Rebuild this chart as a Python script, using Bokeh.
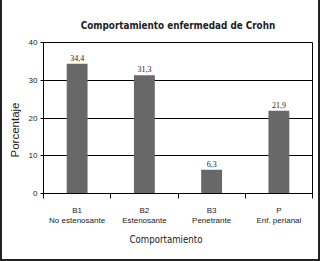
from bokeh.plotting import figure
from bokeh.models import (ColumnDataSource, FixedTicker, LabelSet, Range1d, Title)
from bokeh.embed import file_html
from bokeh.resources import INLINE

categories = ["B1\nNo estenosante", "B2\nEstenosante", "B3\nPenetrante", "P\nEnf. perianal"]
values = [34.4, 31.3, 6.3, 21.9]
value_labels = ["34,4", "31,3", "6,3", "21,9"]
y_ticks = [0, 10, 20, 30, 40]
title_text = "Comportamiento enfermedad de Crohn"
x_title = "Comportamiento"
y_title = "Porcentaje"

SANS = "Liberation Sans"
COND = "DejaVu Sans Condensed"

W, H = 320, 261
FL, FB = 40, 193  # frame left / bottom in canvas pixels
xs = [i + 0.5 for i in range(len(categories))]
src = ColumnDataSource(dict(x=xs, top=values, lab=value_labels))

p = figure(width=W, height=H, output_backend="svg", toolbar_location=None,
           x_range=Range1d(0, len(categories)), y_range=Range1d(0, 40),
           min_border_left=FL, min_border_right=10, min_border_top=42, min_border_bottom=H - FB)
p.styles = {"border-left": "2px solid #222", "border-right": "2px solid #222",
            "border-bottom": "2px solid #222", "box-sizing": "border-box"}

p.vbar(x="x", top="top", width=0.31, source=src, fill_color="#686868", line_color=None)

labels = LabelSet(x="x", y="top", text="lab", source=src, text_align="center",
                  text_baseline="bottom", y_offset=3, text_font_size="8px",
                  text_font=SANS, text_color="#222222")
p.add_layout(labels)

p.title = Title(text=title_text, align="center",
                text_font=COND, text_font_size="9.8px", text_font_style="bold",
                text_color="#222222", standoff=24)

p.outline_line_color = "black"
p.outline_line_width = 1
p.background_fill_color = "white"
p.border_fill_color = "white"

p.xgrid.visible = False
p.ygrid.grid_line_color = "black"
p.ygrid.grid_line_alpha = 1
p.ygrid.ticker = FixedTicker(ticks=y_ticks)

p.yaxis.ticker = FixedTicker(ticks=y_ticks)
p.yaxis.major_label_text_font = SANS
p.yaxis.major_label_text_font_size = "8px"
p.yaxis.major_label_text_color = "#222222"
p.yaxis.major_tick_in = 0
p.yaxis.major_tick_out = 3
p.yaxis.minor_tick_line_color = None
p.yaxis.axis_line_color = "black"
p.yaxis.major_label_standoff = 3

p.xaxis.ticker = FixedTicker(ticks=xs, minor_ticks=list(range(len(categories) + 1)))
p.xaxis.major_label_overrides = {x: c for x, c in zip(xs, categories)}
p.xaxis.major_tick_line_color = None
p.xaxis.minor_tick_in = 0
p.xaxis.minor_tick_out = 5
p.xaxis.minor_tick_line_color = "black"
p.xaxis.axis_line_color = "black"
p.xaxis.major_label_text_font = SANS
p.xaxis.major_label_text_font_size = "8px"
p.xaxis.major_label_text_color = "#222222"
p.xaxis.major_label_standoff = 6

# axis titles as side titles, offset along the frame edge
ytitle = Title(text=y_title, align="left", offset=36, standoff=9,
               text_font=SANS, text_font_size="11.5px", text_font_style="normal",
               text_color="#222222")
xtitle = Title(text=x_title, align="left", offset=86, standoff=6,
               text_font=COND, text_font_size="9.6px", text_font_style="normal",
               text_color="#222222")
p.add_layout(ytitle, "left")
p.add_layout(xtitle, "below")

open("out.html", "w").write(file_html(p, INLINE))
